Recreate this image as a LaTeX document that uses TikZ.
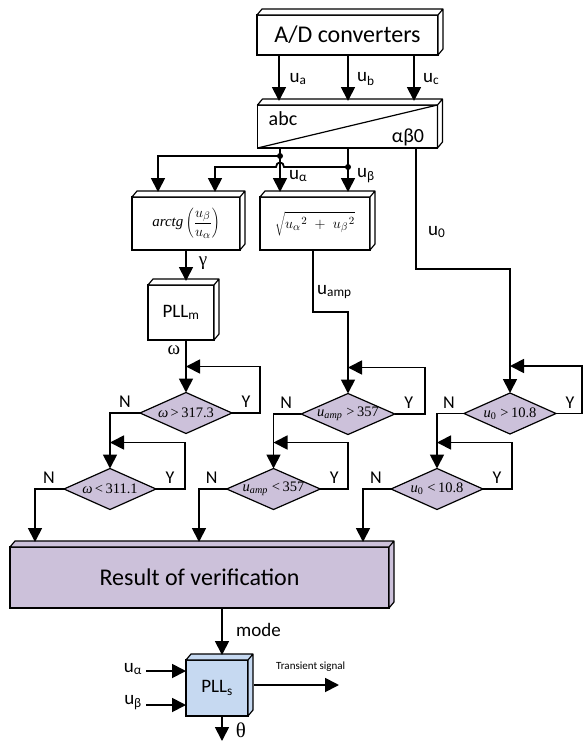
\documentclass[tikz,border=0pt]{standalone}
\usepackage{fontspec}
\setmainfont{Carlito}
\newfontfamily\tms{Liberation Serif}
\usetikzlibrary{arrows.meta,shapes.geometric,calc}
\definecolor{lav}{HTML}{CCC1DA}
\definecolor{pale}{HTML}{C6D9F1}

% top and right faces that give a block its 3D look
\newcommand{\depthfaces}[2]{%
  \filldraw[fill=#2, line width=1.2pt, line join=round]
    (#1.north west) -- ++(5,-6) -- ($(#1.north east)+(5,-6)$)
    -- ($(#1.south east)+(5,-6)$) -- (#1.south east) -- (#1.north east) -- cycle
    (#1.north east) -- ++(5,-6);}

\begin{document}
\begin{tikzpicture}[x=1pt,y=-1pt,
  blk/.style={draw, line width=1.5pt, fill=white, inner sep=0pt, outer sep=0pt},
  dia/.style={diamond, draw, line width=1.2pt, fill=lav, aspect=2.3,
    minimum width=92pt, minimum height=41pt, inner sep=0pt, outer sep=0pt,
    font=\tms\fontsize{14.5}{16}\selectfont},
  wire/.style={line width=1.8pt},
  arr/.style={wire, -{Triangle[length=14pt,width=14pt]}},
  lbl/.style={inner sep=0pt, font=\fontsize{19}{21}\selectfont},
  glbl/.style={inner sep=0pt, font=\tms\fontsize{19}{21}\selectfont},
  yn/.style={inner sep=0pt, font=\fontsize{18}{20}\selectfont},
  dot/.style={circle, fill, inner sep=0pt, minimum size=6pt}]

\useasboundingbox (0,0) rectangle (584,742);

% ---------- blocks ----------
\node[blk, minimum width=181pt, minimum height=40pt, font=\fontsize{24}{28}\selectfont]
  (ad) at (347.5,35) {A/D converters};
\depthfaces{ad}{white}

\node[blk, minimum width=180pt, minimum height=43pt] (abc) at (347.5,126.5) {};
\depthfaces{abc}{white}
\draw[line width=1.2pt] (abc.south west) -- (abc.north east);
\node[lbl, font=\fontsize{20}{22}\selectfont] (abcT) at (283,119) {abc};
\node[lbl, font=\fontsize{20}{22}\selectfont] (abzT) at (408,137) {αβ0};

\node[blk, minimum width=108pt, minimum height=53pt, font=\fontsize{15}{17}\selectfont]
  (atg) at (186,223.5)
  {{\tms\itshape arctg}\,$\left(\displaystyle\frac{u_\beta}{u_\alpha}\right)$};
\depthfaces{atg}{white}

\node[blk, minimum width=110pt, minimum height=53pt, font=\fontsize{15}{17}\selectfont]
  (sqr) at (315,223.5)
  {$\sqrt{\rule{0pt}{13pt}u_{\alpha}\kern-1pt{}^{\,2}\;+\;u_{\beta}\kern-1pt{}^{\,2}}$};
\depthfaces{sqr}{white}

\node[blk, minimum width=66pt, minimum height=55pt, font=\fontsize{19}{21}\selectfont]
  (pllm) at (181,312.5) {PLL\textsubscript{m}};
\depthfaces{pllm}{white}

\node[blk, fill=lav, minimum width=379pt, minimum height=61pt, font=\fontsize{24}{28}\selectfont]
  (res) at (199.5,577.5) {Result of verification};
\depthfaces{res}{lav}

\node[blk, fill=pale, minimum width=62pt, minimum height=56pt, font=\fontsize{19}{21}\selectfont]
  (plls) at (217,688) {PLL\textsubscript{s}};
\depthfaces{plls}{pale}

% ---------- decisions ----------
\node[dia] (d1) at (186,413)   {{\itshape ω}\,>\,317.3};
\node[dia] (d2) at (110,489)   {{\itshape ω}\,<\,311.1};
\node[dia] (d3) at (348,414)   {{\itshape u\textsubscript{amp}}\;>\,357};
\node[dia] (d4) at (273.5,489) {{\itshape u\textsubscript{amp}}\;<\,357};
\node[dia] (d5) at (510,413.5) {{\itshape u}\textsubscript{0}\;>\,10.8};
\node[dia] (d6) at (437,489)   {{\itshape u}\textsubscript{0}\;<\,10.8};

% ---------- A/D to abc/αβ0 ----------
\draw[arr] ($(ad.south)+(-68.5,0)$) -- ($(abc.north)+(-68.5,-4)$);
\draw[arr] ($(ad.south)+(0.5,0)$)   -- ($(abc.north)+(0.5,-4)$);
\draw[arr] ($(ad.south)+(66.5,0)$)  -- ($(abc.north)+(66.5,-4)$);
\node[lbl, anchor=west] (lua) at (289.5,79) {u\textsubscript{a}};
\node[lbl, anchor=west] (lub) at (357,79)   {u\textsubscript{b}};
\node[lbl, anchor=west] (luc) at (423,79)   {u\textsubscript{c}};

% ---------- αβ components ----------
\coordinate (ja) at ($(abc.south)+(-67.5,8)$);
\coordinate (jb) at ($(abc.south)+(0.5,19)$);
\draw[arr] ($(abc.south)+(-67.5,0)$) -- ($(sqr.north)+(-35,-5)$);
\draw[arr] ($(abc.south)+(0.5,0)$) -- ($(sqr.north)+(33,-5)$);
\draw[arr] (ja) -| ($(atg.north)+(-28,-5)$);
\draw[arr] (jb) -- ($(ja |- jb)+(4,0)$)
  .. controls +(0,-6) and +(0,-6) .. ($(ja |- jb)+(-4,0)$)
  -| ($(atg.north)+(29,-5)$);
\node[dot] at (ja) {};
\node[dot] at (jb) {};
\node[lbl, anchor=west] (lual) at (289,176) {u\textsubscript{α}};
\node[lbl, anchor=west] (lube) at (357,176) {u\textsubscript{β}};

% ---------- zero sequence ----------
\draw[arr] ($(abc.south)+(68.5,0)$) -- ($(abc.south)+(68.5,121)$) -| (d5.north);
\node[lbl, anchor=west] (lu0) at (428,232) {u\textsubscript{0}};

% ---------- angle / frequency branch ----------
\draw[arr] (atg.south) -- ($(pllm.north -| atg.south)+(0,-4)$);
\node[glbl] (lgam) at (203,263) {γ};
\draw[arr] (pllm.south -| d1.north) -- (d1.north);
\node[glbl] (lom) at (174,350) {ω};

% ---------- amplitude branch ----------
\draw[arr] ($(sqr.south)+(-2,0)$) -- ++(0,62) -| (d3.north);
\node[lbl, anchor=west] (luamp) at (317,292) {u\textsubscript{amp}};

% ---------- decision loops ----------
\draw[arr] (d1.east) -- ++(28,0) |- ($(d1.north)+(0,-26)$);
\draw[arr] (d1.west) -| (d2.north);
\draw[arr] (d2.east) -- ++(29,0) |- ($(d2.north)+(0,-26)$);
\draw[arr] (d2.west) -| ($(res.north west)+(25,-5)$);

\draw[arr] (d3.east) -- ++(30,0) |- ($(d3.north)+(0,-26)$);
\draw[arr] (d3.west) -| (d4.north);
\draw[arr] (d4.east) -- ++(28,0) |- ($(d4.north)+(0,-26)$);
\draw[arr] (d4.west) -| ($(res.north west)+(189,-5)$);

\draw[arr] (d5.east) -- ++(26,0) |- ($(d5.north)+(0,-27)$);
\draw[arr] (d5.west) -| (d6.north);
\draw[arr] (d6.east) -- ++(29,0) |- ($(d6.north)+(0,-26)$);
\draw[arr] (d6.west) -| ($(res.north west)+(353,-5)$);

\foreach \d in {d1,d2,d3,d4,d5,d6}{
  \node[yn] at ($(\d.west)+(-15,-11)$) {N};
  \node[yn] at ($(\d.east)+(14,-11)$) {Y};
}

% ---------- synchronisation PLL ----------
\draw[arr] ($(res.south)+(22.5,0)$) -- ($(plls.north)+(5,-5)$);
\node[lbl, anchor=west] (lmode) at (236,630) {mode};
\draw[arr] ($(plls.west)+(-40,-17)$) -- ($(plls.west)+(0,-17)$);
\draw[arr] ($(plls.west)+(-40,17)$) -- ($(plls.west)+(0,17)$);
\node[lbl, anchor=east] (lina) at (142,669) {u\textsubscript{α}};
\node[lbl, anchor=east] (linb) at (142,703) {u\textsubscript{β}};
\draw[arr] ($(plls.east)+(6,-3)$) -- ++(85,0);
\node[anchor=west, inner sep=0pt, font=\fontsize{11}{13}\selectfont] (ltr) at (276,667) {Transient signal};
\draw[arr] ($(plls.south)+(5,0)$) -- ++(0,25);
\node[glbl, font=\tms\fontsize{21}{23}\selectfont] (lth) at (241,730) {θ};

\end{tikzpicture}
\end{document}
